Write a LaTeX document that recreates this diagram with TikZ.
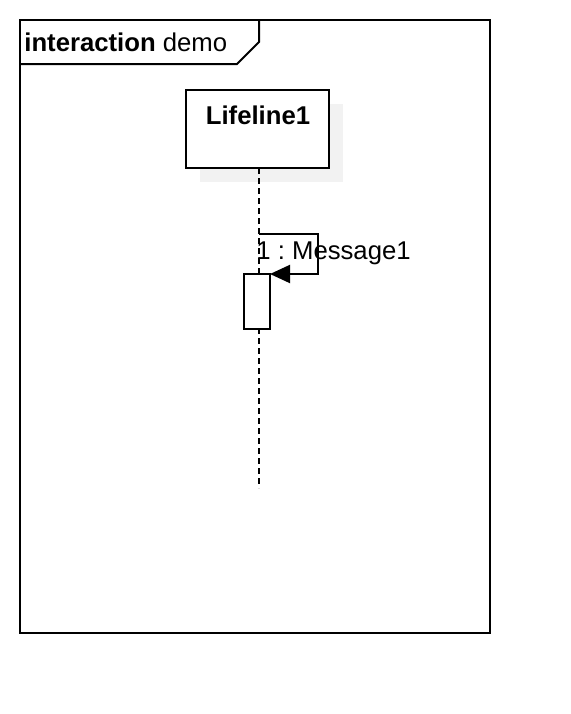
\documentclass[tikz,border=0pt]{standalone}
\usepackage{fontspec}
\setmainfont{Liberation Sans}
\usetikzlibrary{arrows.meta,positioning}
\definecolor{shadowgray}{RGB}{242,242,242}
\frenchspacing

\begin{document}
\begin{tikzpicture}[
  x=0.5pt,y=-0.5pt,
  font=\fontsize{12.85pt}{15pt}\selectfont,
  line/.style={draw=black,line width=1pt},
  lifebox/.style={line,fill=white,minimum width=71.5pt,minimum height=39pt,inner sep=0pt,outer sep=0pt},
  actbox/.style={line,fill=white,minimum width=13pt,minimum height=27.5pt,inner sep=0pt,outer sep=0pt},
  lifeline/.style={line,dash pattern=on 3pt off 2pt},
  msg/.style={line,-{Triangle[length=10pt,width=9pt]}},
]
\useasboundingbox (0,0) rectangle (570,714);
% frame and its name tag
\draw[line] (20,20) rectangle (490,633);
\draw[line] (20,64) -- (237,64) -- (259,42) -- (259,20);
\node[anchor=west,inner sep=0pt] (tag) at (24,42) {\textbf{interaction} demo};

% lifeline head with shadow
\fill[shadowgray] (200,104) rectangle (343,182);
\node[lifebox] (life) at (257.5,129) {};
\node[font=\fontsize{12.85pt}{15pt}\selectfont\bfseries] (lifename) at (258,115) {Lifeline1};
\coordinate (lifeend) at (259,488);
\coordinate (msgstart) at (259,234);
\draw[lifeline] (life.south -| lifeend) -- (lifeend);

% activation and self message
\node[actbox] (act) at (257,301.5) {};
\draw[msg] (msgstart) -- (318,234) |- (act.north east);
\node[anchor=west,inner sep=0pt] (msglabel) at (256,253) {1 : Message1};
\end{tikzpicture}
\end{document}
